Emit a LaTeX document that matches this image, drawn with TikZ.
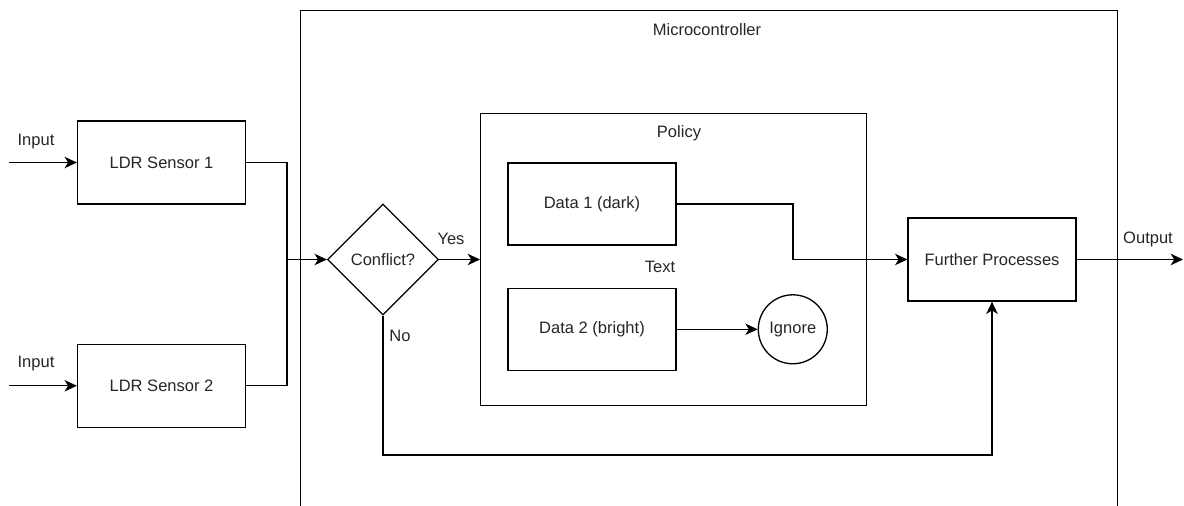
\documentclass[tikz,border=0pt]{standalone}
\usepackage{fontspec}
\setmainfont{Liberation Sans}
\usetikzlibrary{arrows.meta,positioning,shapes.geometric}

\tikzset{
  block/.style={draw, minimum width=3.36cm, minimum height=1.66cm, inner sep=0},
  frame/.style={draw, anchor=north west, inner sep=0},
  decision/.style={draw, diamond, aspect=1, minimum size=2.22cm, inner sep=0},
  sink/.style={draw, circle, minimum size=1.38cm, inner sep=0}
}

\begin{document}
\begin{tikzpicture}[x=0.02cm, y=-0.02cm, line width=0.75pt,
    >={Stealth[length=7pt,width=6.5pt,inset=2pt]},
    font=\fontsize{9.4}{11}\selectfont, text=black!85]
  \useasboundingbox (0,0) rectangle (1184,506);

  % containers
  \node (mc) [frame, minimum width=16.34cm, minimum height=10.6cm] at (300,10) {};
  \node (mclabel) at (707,30) {Microcontroller};
  \node (pol) [frame, minimum width=7.72cm, minimum height=5.84cm] at (480,113) {};
  \node (pollabel) at (679,133) {Policy};
  \node (txt) at (660,267) {Text};

  % blocks
  \node (s1) [block] at (161.5,162.5) {LDR Sensor 1};
  \node (s2) [block, below=2.78cm of s1] {LDR Sensor 2};
  \node (cf) [decision] at (383,259.5) {Conflict?};
  \node (d1) [block, minimum height=1.64cm] at (592,204) {Data 1 (dark)};
  \node (d2) [block, minimum height=1.64cm, below=0.84cm of d1] {Data 2 (bright)};
  \node (ign) [sink, right=1.62cm of d2] {Ignore};
  \node (fp) [block] at (992,259.5) {Further Processes};

  % free ends and bends
  \coordinate (in1) at (9,162.5);
  \coordinate (in2) at (in1 |- s2.west);
  \coordinate (j) at (287,259.5);
  \coordinate (k) at (793,259.5);
  \coordinate (lp) at (383,455);
  \coordinate (out) at (1183,259.5);

  % labels
  \node (lin1) at (36,142) {Input};
  \node (lin2) at (36,364) {Input};
  \node (lyes) at (451,239) {Yes};
  \node (lno) at (400,336) {No};
  \node (lout) at (1148,239) {Output};

  % connectors
  \draw[->] (in1) -- (s1.west);
  \draw[->] (in2) -- (s2.west);
  \draw (s1.east) -| (j);
  \draw (s2.east) -| (j);
  \draw[->] (j) -- (cf.west);
  \draw[->] (cf.east) -- (cf.east -| pol.west);
  \draw[->] (d1.east) -| (k) -- (fp.west);
  \draw[->] (d2.east) -- (ign.west);
  \draw[->] (cf.south) -- (lp) -| (fp.south);
  \draw[->] (fp.east) -- (out);
\end{tikzpicture}
\end{document}
